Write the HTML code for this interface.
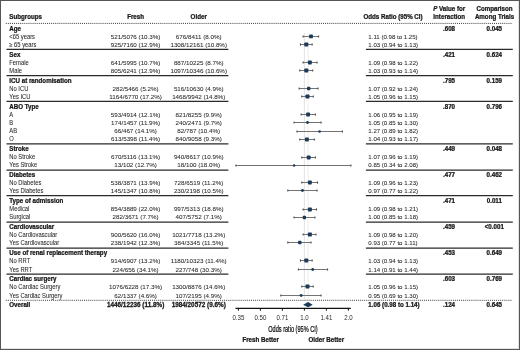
<!DOCTYPE html>
<html><head><meta charset="utf-8"><style>
html,body{margin:0;padding:0;background:#fff;}
body{width:520px;height:350px;overflow:hidden;}
svg{display:block;will-change:transform;font-family:"Liberation Sans",sans-serif;}
.b{stroke:#111;stroke-width:0.25px;}
.r{stroke:#2a2a2a;stroke-width:0.06px;}
</style></head><body>
<svg width="520" height="350" viewBox="0 0 520 350">
<rect x="0" y="0" width="520" height="350" fill="#fff"/>
<line x1="304.40" y1="33" x2="304.40" y2="299.5" stroke="#dcdfe3" stroke-width="0.9"/>
<line x1="308.10" y1="33" x2="308.10" y2="299.5" stroke="#f5eadf" stroke-width="0.9"/>
<text transform="translate(9.30 18.90) scale(0.9688 1)" text-anchor="start" font-weight="bold" class="b" font-size="6.4" fill="#1a1a1a">Subgroups</text>
<text transform="translate(135.60 18.90) scale(0.9688 1)" text-anchor="middle" font-weight="bold" class="b" font-size="6.4" fill="#1a1a1a">Fresh</text>
<text transform="translate(198.70 18.90) scale(0.9688 1)" text-anchor="middle" font-weight="bold" class="b" font-size="6.4" fill="#1a1a1a">Older</text>
<text transform="translate(363.40 18.80) scale(0.9688 1)" text-anchor="start" font-weight="bold" class="b" font-size="6.4" fill="#1a1a1a">Odds Ratio (95% CI)</text>
<text transform="translate(449.20 11.2) scale(0.9688 1)" text-anchor="middle" font-weight="bold" class="b" font-size="6.4" fill="#1a1a1a"><tspan font-style="italic">P</tspan> Value for</text>
<text transform="translate(449.20 18.90) scale(0.9688 1)" text-anchor="middle" font-weight="bold" class="b" font-size="6.4" fill="#1a1a1a">Interaction</text>
<text transform="translate(494.50 11.20) scale(0.9688 1)" text-anchor="middle" font-weight="bold" class="b" font-size="6.4" fill="#1a1a1a">Comparison</text>
<text transform="translate(494.50 18.90) scale(0.9688 1)" text-anchor="middle" font-weight="bold" class="b" font-size="6.4" fill="#1a1a1a">Among Trials</text>
<line x1="5.8" y1="23.40" x2="512.6" y2="23.40" stroke="#3a3a3a" stroke-width="1" stroke-dasharray="1 1.06"/>
<line x1="5.8" y1="300.30" x2="512.6" y2="300.30" stroke="#3a3a3a" stroke-width="1" stroke-dasharray="1 1.06"/>
<line x1="6.5" y1="49.30" x2="228.4" y2="49.30" stroke="#2a2a2a" stroke-width="1.25"/>
<line x1="365.9" y1="49.30" x2="512.8" y2="49.30" stroke="#2a2a2a" stroke-width="1.25"/>
<line x1="6.5" y1="75.70" x2="228.4" y2="75.70" stroke="#2a2a2a" stroke-width="1.25"/>
<line x1="365.9" y1="75.70" x2="512.8" y2="75.70" stroke="#2a2a2a" stroke-width="1.25"/>
<line x1="6.5" y1="101.40" x2="228.4" y2="101.40" stroke="#2a2a2a" stroke-width="1.25"/>
<line x1="365.9" y1="101.40" x2="512.8" y2="101.40" stroke="#2a2a2a" stroke-width="1.25"/>
<line x1="6.5" y1="143.90" x2="228.4" y2="143.90" stroke="#2a2a2a" stroke-width="1.25"/>
<line x1="365.9" y1="143.90" x2="512.8" y2="143.90" stroke="#2a2a2a" stroke-width="1.25"/>
<line x1="6.5" y1="170.00" x2="228.4" y2="170.00" stroke="#2a2a2a" stroke-width="1.25"/>
<line x1="365.9" y1="170.00" x2="512.8" y2="170.00" stroke="#2a2a2a" stroke-width="1.25"/>
<line x1="6.5" y1="195.70" x2="228.4" y2="195.70" stroke="#2a2a2a" stroke-width="1.25"/>
<line x1="365.9" y1="195.70" x2="512.8" y2="195.70" stroke="#2a2a2a" stroke-width="1.25"/>
<line x1="6.5" y1="222.10" x2="228.4" y2="222.10" stroke="#2a2a2a" stroke-width="1.25"/>
<line x1="365.9" y1="222.10" x2="512.8" y2="222.10" stroke="#2a2a2a" stroke-width="1.25"/>
<line x1="6.5" y1="248.10" x2="228.4" y2="248.10" stroke="#2a2a2a" stroke-width="1.25"/>
<line x1="365.9" y1="248.10" x2="512.8" y2="248.10" stroke="#2a2a2a" stroke-width="1.25"/>
<line x1="6.5" y1="274.00" x2="228.4" y2="274.00" stroke="#2a2a2a" stroke-width="1.25"/>
<line x1="365.9" y1="274.00" x2="512.8" y2="274.00" stroke="#2a2a2a" stroke-width="1.25"/>
<text transform="translate(9.30 31.00) scale(0.9688 1)" text-anchor="start" font-weight="bold" class="b" font-size="6.4" fill="#1a1a1a">Age</text>
<text transform="translate(449.00 31.00) scale(0.9688 1)" text-anchor="middle" font-weight="bold" class="b" font-size="6.4" fill="#1a1a1a">.608</text>
<text transform="translate(494.30 31.00) scale(0.9688 1)" text-anchor="middle" font-weight="bold" class="b" font-size="6.4" fill="#1a1a1a">0.045</text>
<text transform="translate(9.30 39.00) scale(0.9106 1)" text-anchor="start" class="r" font-size="6.4" fill="#2a2a2a">&lt;65 years</text>
<text transform="translate(135.60 39.00) scale(1.0081 1)" text-anchor="middle" class="r" font-size="6.2" fill="#2a2a2a">521/5076 (10.3%)</text>
<text transform="translate(198.70 39.00) scale(1.0081 1)" text-anchor="middle" class="r" font-size="6.2" fill="#2a2a2a">676/8411 (8.0%)</text>
<text transform="translate(368.30 39.00) scale(0.9839 1)" text-anchor="start" class="r" font-size="6.2" fill="#2a2a2a">1.11 (0.98 to 1.25)</text>
<line x1="303.12" y1="36.50" x2="318.56" y2="36.50" stroke="#737373" stroke-width="1"/>
<line x1="303.12" y1="35.40" x2="303.12" y2="37.60" stroke="#4a4a4a" stroke-width="1.1"/>
<line x1="318.56" y1="35.40" x2="318.56" y2="37.60" stroke="#4a4a4a" stroke-width="1.1"/>
<rect x="309.15" y="34.62" width="3.75" height="3.75" rx="0.70" fill="#1b3a5a"/>
<text transform="translate(9.30 47.00) scale(0.9106 1)" text-anchor="start" class="r" font-size="6.4" fill="#2a2a2a">≥ 65 years</text>
<text transform="translate(135.60 47.00) scale(1.0081 1)" text-anchor="middle" class="r" font-size="6.2" fill="#2a2a2a">925/7160 (12.9%)</text>
<text transform="translate(198.70 47.00) scale(1.0081 1)" text-anchor="middle" class="r" font-size="6.2" fill="#2a2a2a">1308/12161 (10.8%)</text>
<text transform="translate(368.30 47.00) scale(0.9839 1)" text-anchor="start" class="r" font-size="6.2" fill="#2a2a2a">1.03 (0.94 to 1.13)</text>
<line x1="300.47" y1="44.50" x2="312.16" y2="44.50" stroke="#737373" stroke-width="1"/>
<line x1="300.47" y1="43.40" x2="300.47" y2="45.60" stroke="#4a4a4a" stroke-width="1.1"/>
<line x1="312.16" y1="43.40" x2="312.16" y2="45.60" stroke="#4a4a4a" stroke-width="1.1"/>
<rect x="304.28" y="42.50" width="4.00" height="4.00" rx="0.70" fill="#1b3a5a"/>
<text transform="translate(9.30 57.00) scale(0.9688 1)" text-anchor="start" font-weight="bold" class="b" font-size="6.4" fill="#1a1a1a">Sex</text>
<text transform="translate(449.00 57.00) scale(0.9688 1)" text-anchor="middle" font-weight="bold" class="b" font-size="6.4" fill="#1a1a1a">.421</text>
<text transform="translate(494.30 57.00) scale(0.9688 1)" text-anchor="middle" font-weight="bold" class="b" font-size="6.4" fill="#1a1a1a">0.624</text>
<text transform="translate(9.30 65.00) scale(0.9106 1)" text-anchor="start" class="r" font-size="6.4" fill="#2a2a2a">Female</text>
<text transform="translate(135.60 65.00) scale(1.0081 1)" text-anchor="middle" class="r" font-size="6.2" fill="#2a2a2a">641/5995 (10.7%)</text>
<text transform="translate(198.70 65.00) scale(1.0081 1)" text-anchor="middle" class="r" font-size="6.2" fill="#2a2a2a">887/10225 (8.7%)</text>
<text transform="translate(368.30 65.00) scale(0.9839 1)" text-anchor="start" class="r" font-size="6.2" fill="#2a2a2a">1.09 (0.98 to 1.22)</text>
<line x1="303.12" y1="62.50" x2="317.02" y2="62.50" stroke="#737373" stroke-width="1"/>
<line x1="303.12" y1="61.40" x2="303.12" y2="63.60" stroke="#4a4a4a" stroke-width="1.1"/>
<line x1="317.02" y1="61.40" x2="317.02" y2="63.60" stroke="#4a4a4a" stroke-width="1.1"/>
<rect x="307.95" y="60.58" width="3.85" height="3.85" rx="0.70" fill="#1b3a5a"/>
<text transform="translate(9.30 73.00) scale(0.9106 1)" text-anchor="start" class="r" font-size="6.4" fill="#2a2a2a">Male</text>
<text transform="translate(135.60 73.00) scale(1.0081 1)" text-anchor="middle" class="r" font-size="6.2" fill="#2a2a2a">805/6241 (12.9%)</text>
<text transform="translate(198.70 73.00) scale(1.0081 1)" text-anchor="middle" class="r" font-size="6.2" fill="#2a2a2a">1097/10346 (10.6%)</text>
<text transform="translate(368.30 73.00) scale(0.9839 1)" text-anchor="start" class="r" font-size="6.2" fill="#2a2a2a">1.03 (0.93 to 1.14)</text>
<line x1="299.79" y1="70.50" x2="312.72" y2="70.50" stroke="#737373" stroke-width="1"/>
<line x1="299.79" y1="69.40" x2="299.79" y2="71.60" stroke="#4a4a4a" stroke-width="1.1"/>
<line x1="312.72" y1="69.40" x2="312.72" y2="71.60" stroke="#4a4a4a" stroke-width="1.1"/>
<rect x="304.28" y="68.50" width="4.00" height="4.00" rx="0.70" fill="#1b3a5a"/>
<text transform="translate(9.30 83.00) scale(0.9688 1)" text-anchor="start" font-weight="bold" class="b" font-size="6.4" fill="#1a1a1a">ICU at randomisation</text>
<text transform="translate(449.00 83.00) scale(0.9688 1)" text-anchor="middle" font-weight="bold" class="b" font-size="6.4" fill="#1a1a1a">.795</text>
<text transform="translate(494.30 83.00) scale(0.9688 1)" text-anchor="middle" font-weight="bold" class="b" font-size="6.4" fill="#1a1a1a">0.159</text>
<text transform="translate(9.30 91.00) scale(0.9106 1)" text-anchor="start" class="r" font-size="6.4" fill="#2a2a2a">No ICU</text>
<text transform="translate(135.60 91.00) scale(1.0081 1)" text-anchor="middle" class="r" font-size="6.2" fill="#2a2a2a">282/5466 (5.2%)</text>
<text transform="translate(198.70 91.00) scale(1.0081 1)" text-anchor="middle" class="r" font-size="6.2" fill="#2a2a2a">516/10630 (4.9%)</text>
<text transform="translate(368.30 91.00) scale(0.9839 1)" text-anchor="start" class="r" font-size="6.2" fill="#2a2a2a">1.07 (0.92 to 1.24)</text>
<line x1="299.11" y1="88.50" x2="318.05" y2="88.50" stroke="#737373" stroke-width="1"/>
<line x1="299.11" y1="87.40" x2="299.11" y2="89.60" stroke="#4a4a4a" stroke-width="1.1"/>
<line x1="318.05" y1="87.40" x2="318.05" y2="89.60" stroke="#4a4a4a" stroke-width="1.1"/>
<rect x="307.04" y="86.85" width="3.30" height="3.30" rx="0.70" fill="#1b3a5a"/>
<text transform="translate(9.30 99.00) scale(0.9106 1)" text-anchor="start" class="r" font-size="6.4" fill="#2a2a2a">Yes ICU</text>
<text transform="translate(135.60 99.00) scale(1.0081 1)" text-anchor="middle" class="r" font-size="6.2" fill="#2a2a2a">1164/6770 (17.2%)</text>
<text transform="translate(198.70 99.00) scale(1.0081 1)" text-anchor="middle" class="r" font-size="6.2" fill="#2a2a2a">1468/9942 (14.8%)</text>
<text transform="translate(368.30 99.00) scale(0.9839 1)" text-anchor="start" class="r" font-size="6.2" fill="#2a2a2a">1.05 (0.96 to 1.15)</text>
<line x1="301.81" y1="96.50" x2="313.27" y2="96.50" stroke="#737373" stroke-width="1"/>
<line x1="301.81" y1="95.40" x2="301.81" y2="97.60" stroke="#4a4a4a" stroke-width="1.1"/>
<line x1="313.27" y1="95.40" x2="313.27" y2="97.60" stroke="#4a4a4a" stroke-width="1.1"/>
<rect x="305.50" y="94.50" width="4.00" height="4.00" rx="0.70" fill="#1b3a5a"/>
<text transform="translate(9.30 109.00) scale(0.9688 1)" text-anchor="start" font-weight="bold" class="b" font-size="6.4" fill="#1a1a1a">ABO Type</text>
<text transform="translate(449.00 109.00) scale(0.9688 1)" text-anchor="middle" font-weight="bold" class="b" font-size="6.4" fill="#1a1a1a">.870</text>
<text transform="translate(494.30 109.00) scale(0.9688 1)" text-anchor="middle" font-weight="bold" class="b" font-size="6.4" fill="#1a1a1a">0.796</text>
<text transform="translate(9.30 117.00) scale(0.9106 1)" text-anchor="start" class="r" font-size="6.4" fill="#2a2a2a">A</text>
<text transform="translate(135.60 117.00) scale(1.0081 1)" text-anchor="middle" class="r" font-size="6.2" fill="#2a2a2a">593/4914 (12.1%)</text>
<text transform="translate(198.70 117.00) scale(1.0081 1)" text-anchor="middle" class="r" font-size="6.2" fill="#2a2a2a">821/8255 (9.9%)</text>
<text transform="translate(368.30 117.00) scale(0.9839 1)" text-anchor="start" class="r" font-size="6.2" fill="#2a2a2a">1.06 (0.95 to 1.19)</text>
<line x1="301.14" y1="114.50" x2="315.44" y2="114.50" stroke="#737373" stroke-width="1"/>
<line x1="301.14" y1="113.40" x2="301.14" y2="115.60" stroke="#4a4a4a" stroke-width="1.1"/>
<line x1="315.44" y1="113.40" x2="315.44" y2="115.60" stroke="#4a4a4a" stroke-width="1.1"/>
<rect x="306.17" y="112.58" width="3.85" height="3.85" rx="0.70" fill="#1b3a5a"/>
<text transform="translate(9.30 125.00) scale(0.9106 1)" text-anchor="start" class="r" font-size="6.4" fill="#2a2a2a">B</text>
<text transform="translate(135.60 125.00) scale(1.0081 1)" text-anchor="middle" class="r" font-size="6.2" fill="#2a2a2a">174/1457 (11.9%)</text>
<text transform="translate(198.70 125.00) scale(1.0081 1)" text-anchor="middle" class="r" font-size="6.2" fill="#2a2a2a">240/2471 (9.7%)</text>
<text transform="translate(368.30 125.00) scale(0.9839 1)" text-anchor="start" class="r" font-size="6.2" fill="#2a2a2a">1.05 (0.85 to 1.30)</text>
<line x1="294.08" y1="122.50" x2="321.05" y2="122.50" stroke="#737373" stroke-width="1"/>
<line x1="294.08" y1="121.40" x2="294.08" y2="123.60" stroke="#4a4a4a" stroke-width="1.1"/>
<line x1="321.05" y1="121.40" x2="321.05" y2="123.60" stroke="#4a4a4a" stroke-width="1.1"/>
<rect x="306.10" y="121.10" width="2.80" height="2.80" rx="1.40" fill="#1b3a5a"/>
<text transform="translate(9.30 133.00) scale(0.9106 1)" text-anchor="start" class="r" font-size="6.4" fill="#2a2a2a">AB</text>
<text transform="translate(135.60 133.00) scale(1.0081 1)" text-anchor="middle" class="r" font-size="6.2" fill="#2a2a2a">66/467 (14.1%)</text>
<text transform="translate(198.70 133.00) scale(1.0081 1)" text-anchor="middle" class="r" font-size="6.2" fill="#2a2a2a">82/787 (10.4%)</text>
<text transform="translate(368.30 133.00) scale(0.9839 1)" text-anchor="start" class="r" font-size="6.2" fill="#2a2a2a">1.27 (0.89 to 1.82)</text>
<line x1="297.00" y1="131.50" x2="342.41" y2="131.50" stroke="#737373" stroke-width="1"/>
<line x1="297.00" y1="130.40" x2="297.00" y2="132.60" stroke="#4a4a4a" stroke-width="1.1"/>
<line x1="342.41" y1="130.40" x2="342.41" y2="132.60" stroke="#4a4a4a" stroke-width="1.1"/>
<rect x="318.22" y="130.15" width="2.70" height="2.70" rx="1.35" fill="#1b3a5a"/>
<text transform="translate(9.30 141.00) scale(0.9106 1)" text-anchor="start" class="r" font-size="6.4" fill="#2a2a2a">O</text>
<text transform="translate(135.60 141.00) scale(1.0081 1)" text-anchor="middle" class="r" font-size="6.2" fill="#2a2a2a">613/5398 (11.4%)</text>
<text transform="translate(198.70 141.00) scale(1.0081 1)" text-anchor="middle" class="r" font-size="6.2" fill="#2a2a2a">840/9058 (9.3%)</text>
<text transform="translate(368.30 141.00) scale(0.9839 1)" text-anchor="start" class="r" font-size="6.2" fill="#2a2a2a">1.04 (0.93 to 1.17)</text>
<line x1="299.79" y1="139.50" x2="314.37" y2="139.50" stroke="#737373" stroke-width="1"/>
<line x1="299.79" y1="138.40" x2="299.79" y2="140.60" stroke="#4a4a4a" stroke-width="1.1"/>
<line x1="314.37" y1="138.40" x2="314.37" y2="140.60" stroke="#4a4a4a" stroke-width="1.1"/>
<rect x="304.96" y="137.57" width="3.85" height="3.85" rx="0.70" fill="#1b3a5a"/>
<text transform="translate(9.30 151.00) scale(0.9688 1)" text-anchor="start" font-weight="bold" class="b" font-size="6.4" fill="#1a1a1a">Stroke</text>
<text transform="translate(449.00 151.00) scale(0.9688 1)" text-anchor="middle" font-weight="bold" class="b" font-size="6.4" fill="#1a1a1a">.449</text>
<text transform="translate(494.30 151.00) scale(0.9688 1)" text-anchor="middle" font-weight="bold" class="b" font-size="6.4" fill="#1a1a1a">0.048</text>
<text transform="translate(9.30 159.00) scale(0.9106 1)" text-anchor="start" class="r" font-size="6.4" fill="#2a2a2a">No Stroke</text>
<text transform="translate(135.60 159.00) scale(1.0081 1)" text-anchor="middle" class="r" font-size="6.2" fill="#2a2a2a">670/5116 (13.1%)</text>
<text transform="translate(198.70 159.00) scale(1.0081 1)" text-anchor="middle" class="r" font-size="6.2" fill="#2a2a2a">940/8617 (10.9%)</text>
<text transform="translate(368.30 159.00) scale(0.9839 1)" text-anchor="start" class="r" font-size="6.2" fill="#2a2a2a">1.07 (0.96 to 1.19)</text>
<line x1="301.81" y1="157.50" x2="315.44" y2="157.50" stroke="#737373" stroke-width="1"/>
<line x1="301.81" y1="156.40" x2="301.81" y2="158.60" stroke="#4a4a4a" stroke-width="1.1"/>
<line x1="315.44" y1="156.40" x2="315.44" y2="158.60" stroke="#4a4a4a" stroke-width="1.1"/>
<rect x="306.77" y="155.57" width="3.85" height="3.85" rx="0.70" fill="#1b3a5a"/>
<text transform="translate(9.30 167.00) scale(0.9106 1)" text-anchor="start" class="r" font-size="6.4" fill="#2a2a2a">Yes Stroke</text>
<text transform="translate(135.60 167.00) scale(1.0081 1)" text-anchor="middle" class="r" font-size="6.2" fill="#2a2a2a">13/102 (12.7%)</text>
<text transform="translate(198.70 167.00) scale(1.0081 1)" text-anchor="middle" class="r" font-size="6.2" fill="#2a2a2a">18/100 (18.0%)</text>
<text transform="translate(368.30 167.00) scale(0.9839 1)" text-anchor="start" class="r" font-size="6.2" fill="#2a2a2a">0.85 (0.34 to 2.08)</text>
<line x1="235.92" y1="165.50" x2="350.89" y2="165.50" stroke="#737373" stroke-width="1"/>
<line x1="235.92" y1="164.40" x2="235.92" y2="166.60" stroke="#4a4a4a" stroke-width="1.1"/>
<line x1="350.89" y1="164.40" x2="350.89" y2="166.60" stroke="#4a4a4a" stroke-width="1.1"/>
<rect x="292.83" y="164.25" width="2.50" height="2.50" rx="1.25" fill="#1b3a5a"/>
<text transform="translate(9.30 177.00) scale(0.9688 1)" text-anchor="start" font-weight="bold" class="b" font-size="6.4" fill="#1a1a1a">Diabetes</text>
<text transform="translate(449.00 177.00) scale(0.9688 1)" text-anchor="middle" font-weight="bold" class="b" font-size="6.4" fill="#1a1a1a">.477</text>
<text transform="translate(494.30 177.00) scale(0.9688 1)" text-anchor="middle" font-weight="bold" class="b" font-size="6.4" fill="#1a1a1a">0.462</text>
<text transform="translate(9.30 185.00) scale(0.9106 1)" text-anchor="start" class="r" font-size="6.4" fill="#2a2a2a">No Diabetes</text>
<text transform="translate(135.60 185.00) scale(1.0081 1)" text-anchor="middle" class="r" font-size="6.2" fill="#2a2a2a">538/3871 (13.9%)</text>
<text transform="translate(198.70 185.00) scale(1.0081 1)" text-anchor="middle" class="r" font-size="6.2" fill="#2a2a2a">728/6519 (11.2%)</text>
<text transform="translate(368.30 185.00) scale(0.9839 1)" text-anchor="start" class="r" font-size="6.2" fill="#2a2a2a">1.09 (0.96 to 1.23)</text>
<line x1="301.81" y1="182.50" x2="317.54" y2="182.50" stroke="#737373" stroke-width="1"/>
<line x1="301.81" y1="181.40" x2="301.81" y2="183.60" stroke="#4a4a4a" stroke-width="1.1"/>
<line x1="317.54" y1="181.40" x2="317.54" y2="183.60" stroke="#4a4a4a" stroke-width="1.1"/>
<rect x="307.95" y="180.57" width="3.85" height="3.85" rx="0.70" fill="#1b3a5a"/>
<text transform="translate(9.30 193.00) scale(0.9106 1)" text-anchor="start" class="r" font-size="6.4" fill="#2a2a2a">Yes Diabetes</text>
<text transform="translate(135.60 193.00) scale(1.0081 1)" text-anchor="middle" class="r" font-size="6.2" fill="#2a2a2a">145/1347 (10.8%)</text>
<text transform="translate(198.70 193.00) scale(1.0081 1)" text-anchor="middle" class="r" font-size="6.2" fill="#2a2a2a">230/2198 (10.5%)</text>
<text transform="translate(368.30 193.00) scale(0.9839 1)" text-anchor="start" class="r" font-size="6.2" fill="#2a2a2a">0.97 (0.77 to 1.22)</text>
<line x1="287.81" y1="190.50" x2="317.02" y2="190.50" stroke="#737373" stroke-width="1"/>
<line x1="287.81" y1="189.40" x2="287.81" y2="191.60" stroke="#4a4a4a" stroke-width="1.1"/>
<line x1="317.02" y1="189.40" x2="317.02" y2="191.60" stroke="#4a4a4a" stroke-width="1.1"/>
<rect x="301.02" y="189.05" width="2.90" height="2.90" rx="1.45" fill="#1b3a5a"/>
<text transform="translate(9.30 203.00) scale(0.9688 1)" text-anchor="start" font-weight="bold" class="b" font-size="6.4" fill="#1a1a1a">Type of admission</text>
<text transform="translate(449.00 203.00) scale(0.9688 1)" text-anchor="middle" font-weight="bold" class="b" font-size="6.4" fill="#1a1a1a">.471</text>
<text transform="translate(494.30 203.00) scale(0.9688 1)" text-anchor="middle" font-weight="bold" class="b" font-size="6.4" fill="#1a1a1a">0.011</text>
<text transform="translate(9.30 211.00) scale(0.9106 1)" text-anchor="start" class="r" font-size="6.4" fill="#2a2a2a">Medical</text>
<text transform="translate(135.60 211.00) scale(1.0081 1)" text-anchor="middle" class="r" font-size="6.2" fill="#2a2a2a">854/3889 (22.0%)</text>
<text transform="translate(198.70 211.00) scale(1.0081 1)" text-anchor="middle" class="r" font-size="6.2" fill="#2a2a2a">997/5313 (18.8%)</text>
<text transform="translate(368.30 211.00) scale(0.9839 1)" text-anchor="start" class="r" font-size="6.2" fill="#2a2a2a">1.09 (0.98 to 1.21)</text>
<line x1="303.12" y1="209.50" x2="316.50" y2="209.50" stroke="#737373" stroke-width="1"/>
<line x1="303.12" y1="208.40" x2="303.12" y2="210.60" stroke="#4a4a4a" stroke-width="1.1"/>
<line x1="316.50" y1="208.40" x2="316.50" y2="210.60" stroke="#4a4a4a" stroke-width="1.1"/>
<rect x="307.90" y="207.53" width="3.95" height="3.95" rx="0.70" fill="#1b3a5a"/>
<text transform="translate(9.30 219.00) scale(0.9106 1)" text-anchor="start" class="r" font-size="6.4" fill="#2a2a2a">Surgical</text>
<text transform="translate(135.60 219.00) scale(1.0081 1)" text-anchor="middle" class="r" font-size="6.2" fill="#2a2a2a">282/3671 (7.7%)</text>
<text transform="translate(198.70 219.00) scale(1.0081 1)" text-anchor="middle" class="r" font-size="6.2" fill="#2a2a2a">407/5752 (7.1%)</text>
<text transform="translate(368.30 219.00) scale(0.9839 1)" text-anchor="start" class="r" font-size="6.2" fill="#2a2a2a">1.00 (0.85 to 1.18)</text>
<line x1="294.08" y1="217.50" x2="314.91" y2="217.50" stroke="#737373" stroke-width="1"/>
<line x1="294.08" y1="216.40" x2="294.08" y2="218.60" stroke="#4a4a4a" stroke-width="1.1"/>
<line x1="314.91" y1="216.40" x2="314.91" y2="218.60" stroke="#4a4a4a" stroke-width="1.1"/>
<rect x="302.75" y="215.85" width="3.30" height="3.30" rx="0.70" fill="#1b3a5a"/>
<text transform="translate(9.30 229.00) scale(0.9688 1)" text-anchor="start" font-weight="bold" class="b" font-size="6.4" fill="#1a1a1a">Cardiovascular</text>
<text transform="translate(449.00 229.00) scale(0.9688 1)" text-anchor="middle" font-weight="bold" class="b" font-size="6.4" fill="#1a1a1a">.459</text>
<text transform="translate(494.30 229.00) scale(0.9688 1)" text-anchor="middle" font-weight="bold" class="b" font-size="6.4" fill="#1a1a1a">&lt;0.001</text>
<text transform="translate(9.30 237.00) scale(0.9106 1)" text-anchor="start" class="r" font-size="6.4" fill="#2a2a2a">No Cardiovascular</text>
<text transform="translate(135.60 237.00) scale(1.0081 1)" text-anchor="middle" class="r" font-size="6.2" fill="#2a2a2a">900/5620 (16.0%)</text>
<text transform="translate(198.70 237.00) scale(1.0081 1)" text-anchor="middle" class="r" font-size="6.2" fill="#2a2a2a">1021/7718 (13.2%)</text>
<text transform="translate(368.30 237.00) scale(0.9839 1)" text-anchor="start" class="r" font-size="6.2" fill="#2a2a2a">1.09 (0.98 to 1.20)</text>
<line x1="303.12" y1="234.50" x2="315.97" y2="234.50" stroke="#737373" stroke-width="1"/>
<line x1="303.12" y1="233.40" x2="303.12" y2="235.60" stroke="#4a4a4a" stroke-width="1.1"/>
<line x1="315.97" y1="233.40" x2="315.97" y2="235.60" stroke="#4a4a4a" stroke-width="1.1"/>
<rect x="307.87" y="232.50" width="4.00" height="4.00" rx="0.70" fill="#1b3a5a"/>
<text transform="translate(9.30 245.00) scale(0.9106 1)" text-anchor="start" class="r" font-size="6.4" fill="#2a2a2a">Yes Cardiovascular</text>
<text transform="translate(135.60 245.00) scale(1.0081 1)" text-anchor="middle" class="r" font-size="6.2" fill="#2a2a2a">238/1942 (12.3%)</text>
<text transform="translate(198.70 245.00) scale(1.0081 1)" text-anchor="middle" class="r" font-size="6.2" fill="#2a2a2a">384/3345 (11.5%)</text>
<text transform="translate(368.30 245.00) scale(0.9839 1)" text-anchor="start" class="r" font-size="6.2" fill="#2a2a2a">0.93 (0.77 to 1.11)</text>
<line x1="287.81" y1="242.50" x2="311.02" y2="242.50" stroke="#737373" stroke-width="1"/>
<line x1="287.81" y1="241.40" x2="287.81" y2="243.60" stroke="#4a4a4a" stroke-width="1.1"/>
<line x1="311.02" y1="241.40" x2="311.02" y2="243.60" stroke="#4a4a4a" stroke-width="1.1"/>
<rect x="298.14" y="240.85" width="3.30" height="3.30" rx="0.70" fill="#1b3a5a"/>
<text transform="translate(9.30 255.00) scale(0.9688 1)" text-anchor="start" font-weight="bold" class="b" font-size="6.4" fill="#1a1a1a">Use of renal replacement therapy</text>
<text transform="translate(449.00 255.00) scale(0.9688 1)" text-anchor="middle" font-weight="bold" class="b" font-size="6.4" fill="#1a1a1a">.453</text>
<text transform="translate(494.30 255.00) scale(0.9688 1)" text-anchor="middle" font-weight="bold" class="b" font-size="6.4" fill="#1a1a1a">0.649</text>
<text transform="translate(9.30 263.00) scale(0.9106 1)" text-anchor="start" class="r" font-size="6.4" fill="#2a2a2a">No RRT</text>
<text transform="translate(135.60 263.00) scale(1.0081 1)" text-anchor="middle" class="r" font-size="6.2" fill="#2a2a2a">914/6907 (13.2%)</text>
<text transform="translate(198.70 263.00) scale(1.0081 1)" text-anchor="middle" class="r" font-size="6.2" fill="#2a2a2a">1180/10323 (11.4%)</text>
<text transform="translate(368.30 263.00) scale(0.9839 1)" text-anchor="start" class="r" font-size="6.2" fill="#2a2a2a">1.03 (0.94 to 1.13)</text>
<line x1="300.47" y1="260.50" x2="312.16" y2="260.50" stroke="#737373" stroke-width="1"/>
<line x1="300.47" y1="259.40" x2="300.47" y2="261.60" stroke="#4a4a4a" stroke-width="1.1"/>
<line x1="312.16" y1="259.40" x2="312.16" y2="261.60" stroke="#4a4a4a" stroke-width="1.1"/>
<rect x="304.28" y="258.50" width="4.00" height="4.00" rx="0.70" fill="#1b3a5a"/>
<text transform="translate(9.30 272.00) scale(0.9106 1)" text-anchor="start" class="r" font-size="6.4" fill="#2a2a2a">Yes RRT</text>
<text transform="translate(135.60 272.00) scale(1.0081 1)" text-anchor="middle" class="r" font-size="6.2" fill="#2a2a2a">224/656 (34.1%)</text>
<text transform="translate(198.70 272.00) scale(1.0081 1)" text-anchor="middle" class="r" font-size="6.2" fill="#2a2a2a">227/748 (30.3%)</text>
<text transform="translate(368.30 272.00) scale(0.9839 1)" text-anchor="start" class="r" font-size="6.2" fill="#2a2a2a">1.14 (0.91 to 1.44)</text>
<line x1="298.41" y1="269.50" x2="327.55" y2="269.50" stroke="#737373" stroke-width="1"/>
<line x1="298.41" y1="268.40" x2="298.41" y2="270.60" stroke="#4a4a4a" stroke-width="1.1"/>
<line x1="327.55" y1="268.40" x2="327.55" y2="270.60" stroke="#4a4a4a" stroke-width="1.1"/>
<rect x="311.27" y="268.05" width="2.90" height="2.90" rx="1.45" fill="#1b3a5a"/>
<text transform="translate(9.30 281.00) scale(0.9688 1)" text-anchor="start" font-weight="bold" class="b" font-size="6.4" fill="#1a1a1a">Cardiac surgery</text>
<text transform="translate(449.00 281.00) scale(0.9688 1)" text-anchor="middle" font-weight="bold" class="b" font-size="6.4" fill="#1a1a1a">.603</text>
<text transform="translate(494.30 281.00) scale(0.9688 1)" text-anchor="middle" font-weight="bold" class="b" font-size="6.4" fill="#1a1a1a">0.769</text>
<text transform="translate(9.30 289.00) scale(0.9106 1)" text-anchor="start" class="r" font-size="6.4" fill="#2a2a2a">No Cardiac Surgery</text>
<text transform="translate(135.60 289.00) scale(1.0081 1)" text-anchor="middle" class="r" font-size="6.2" fill="#2a2a2a">1076/6228 (17.3%)</text>
<text transform="translate(198.70 289.00) scale(1.0081 1)" text-anchor="middle" class="r" font-size="6.2" fill="#2a2a2a">1300/8876 (14.6%)</text>
<text transform="translate(368.30 289.00) scale(0.9839 1)" text-anchor="start" class="r" font-size="6.2" fill="#2a2a2a">1.05 (0.96 to 1.15)</text>
<line x1="301.81" y1="286.50" x2="313.27" y2="286.50" stroke="#737373" stroke-width="1"/>
<line x1="301.81" y1="285.40" x2="301.81" y2="287.60" stroke="#4a4a4a" stroke-width="1.1"/>
<line x1="313.27" y1="285.40" x2="313.27" y2="287.60" stroke="#4a4a4a" stroke-width="1.1"/>
<rect x="305.50" y="284.50" width="4.00" height="4.00" rx="0.70" fill="#1b3a5a"/>
<text transform="translate(9.30 298.00) scale(0.9106 1)" text-anchor="start" class="r" font-size="6.4" fill="#2a2a2a">Yes Cardiac Surgery</text>
<text transform="translate(135.60 298.00) scale(1.0081 1)" text-anchor="middle" class="r" font-size="6.2" fill="#2a2a2a">62/1337 (4.6%)</text>
<text transform="translate(198.70 298.00) scale(1.0081 1)" text-anchor="middle" class="r" font-size="6.2" fill="#2a2a2a">107/2195 (4.9%)</text>
<text transform="translate(368.30 298.00) scale(0.9839 1)" text-anchor="start" class="r" font-size="6.2" fill="#2a2a2a">0.95 (0.69 to 1.30)</text>
<line x1="280.85" y1="295.50" x2="321.05" y2="295.50" stroke="#737373" stroke-width="1"/>
<line x1="280.85" y1="294.40" x2="280.85" y2="296.60" stroke="#4a4a4a" stroke-width="1.1"/>
<line x1="321.05" y1="294.40" x2="321.05" y2="296.60" stroke="#4a4a4a" stroke-width="1.1"/>
<rect x="299.69" y="294.05" width="2.90" height="2.90" rx="1.45" fill="#1b3a5a"/>
<text transform="translate(9.30 307.00) scale(0.9688 1)" text-anchor="start" font-weight="bold" class="b" font-size="6.4" fill="#1a1a1a">Overall</text>
<text transform="translate(135.60 307.00) scale(0.9969 1)" text-anchor="middle" font-weight="bold" class="b" font-size="6.4" fill="#1a1a1a">1446/12236 (11.8%)</text>
<text transform="translate(198.70 307.00) scale(0.9969 1)" text-anchor="middle" font-weight="bold" class="b" font-size="6.4" fill="#1a1a1a">1984/20572 (9.6%)</text>
<text transform="translate(368.30 307.00) scale(0.9688 1)" text-anchor="start" font-weight="bold" class="b" font-size="6.4" fill="#1a1a1a">1.06 (0.98 to 1.14)</text>
<text transform="translate(449.00 307.00) scale(0.9688 1)" text-anchor="middle" font-weight="bold" class="b" font-size="6.4" fill="#1a1a1a">.124</text>
<text transform="translate(494.30 307.00) scale(0.9688 1)" text-anchor="middle" font-weight="bold" class="b" font-size="6.4" fill="#1a1a1a">0.645</text>
<polygon points="303.12,304.70 308.10,302.10 312.72,304.70 308.10,307.30" fill="#1b3a5a"/>
<line x1="235.5" y1="308.3" x2="350.8" y2="308.3" stroke="#111" stroke-width="1.3"/>
<line x1="238.40" y1="308.3" x2="238.40" y2="310.70" stroke="#111" stroke-width="1"/>
<text transform="translate(238.40 319.6) scale(0.94 1)" text-anchor="middle" font-size="6.5" fill="#2a2a2a">0.35</text>
<line x1="260.40" y1="308.3" x2="260.40" y2="310.70" stroke="#111" stroke-width="1"/>
<text transform="translate(260.40 319.6) scale(0.94 1)" text-anchor="middle" font-size="6.5" fill="#2a2a2a">0.50</text>
<line x1="282.40" y1="308.3" x2="282.40" y2="310.70" stroke="#111" stroke-width="1"/>
<text transform="translate(282.40 319.6) scale(0.94 1)" text-anchor="middle" font-size="6.5" fill="#2a2a2a">0.71</text>
<line x1="304.40" y1="308.3" x2="304.40" y2="310.70" stroke="#111" stroke-width="1"/>
<text transform="translate(304.40 319.6) scale(0.94 1)" text-anchor="middle" font-size="6.5" fill="#2a2a2a">1.0</text>
<line x1="326.40" y1="308.3" x2="326.40" y2="310.70" stroke="#111" stroke-width="1"/>
<text transform="translate(326.40 319.6) scale(0.94 1)" text-anchor="middle" font-size="6.5" fill="#2a2a2a">1.41</text>
<line x1="348.40" y1="308.3" x2="348.40" y2="310.70" stroke="#111" stroke-width="1"/>
<text transform="translate(348.40 319.6) scale(0.94 1)" text-anchor="middle" font-size="6.5" fill="#2a2a2a">2.0</text>
<text x="0" y="0" font-size="8.6" fill="#111" stroke="#111" stroke-width="0.25" transform="translate(268.2 332.2) scale(0.652 1)">Odds ratio (95% CI)</text>
<text transform="translate(242.40 341.80) scale(0.9688 1)" text-anchor="start" font-weight="bold" class="b" font-size="6.4" fill="#1a1a1a">Fresh Better</text>
<text transform="translate(308.40 341.80) scale(0.9688 1)" text-anchor="start" font-weight="bold" class="b" font-size="6.4" fill="#1a1a1a">Older Better</text>
<rect x="0.5" y="0.5" width="519" height="349" fill="none" stroke="#555" stroke-width="1"/>
<line x1="518.5" y1="1" x2="518.5" y2="349" stroke="#e4e4e4" stroke-width="1"/>
<line x1="1" y1="348.5" x2="518" y2="348.5" stroke="#e4e4e4" stroke-width="1"/>
</svg>
</body></html>
